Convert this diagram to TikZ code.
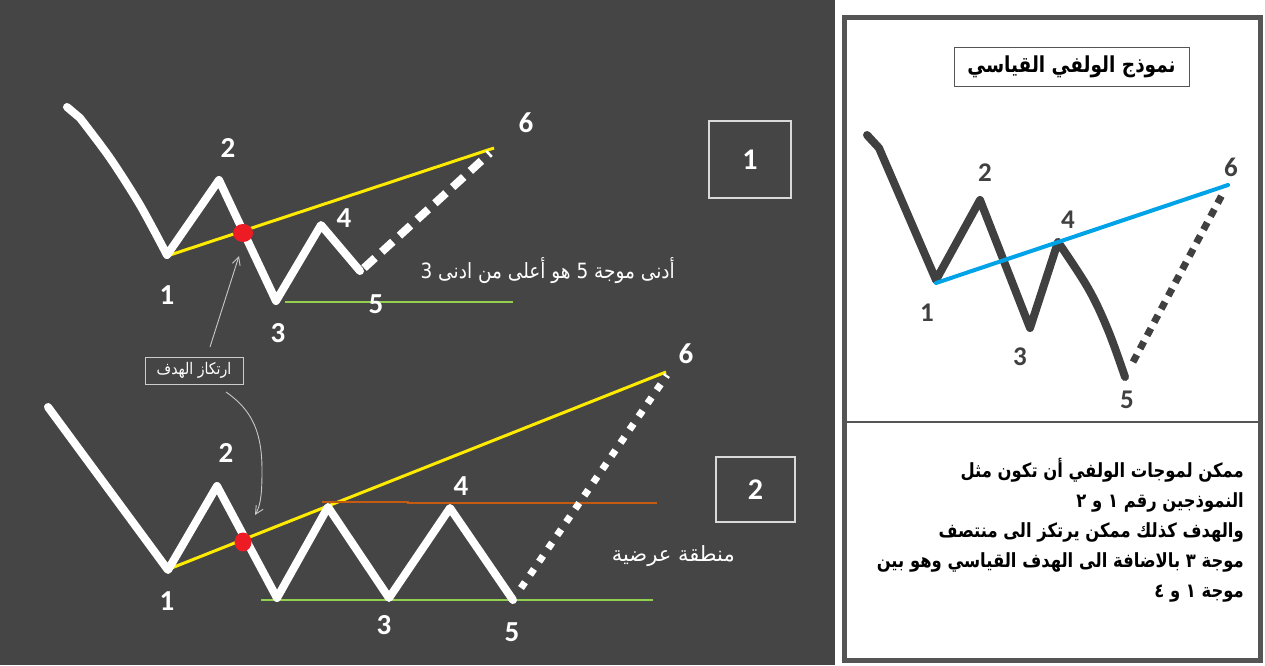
\documentclass[tikz,border=0pt]{standalone}
\usepackage{fontspec}
\TeXXeTstate=1
\newfontfamily\arabicfont[Script=Arabic]{DejaVu Sans}
\newfontfamily\arabicnarrow[Script=Arabic,FakeStretch=0.88]{DejaVu Sans}
\newfontfamily\arabicbody[Script=Arabic,FakeStretch=0.84]{DejaVu Sans}
\newfontfamily\numfont{Carlito}
\usetikzlibrary{arrows.meta}
\definecolor{bgdark}{RGB}{69,69,69}
\definecolor{wavegray}{RGB}{64,64,64}
\definecolor{lineyellow}{RGB}{255,235,0}
\definecolor{linegreen}{RGB}{146,208,80}
\definecolor{lineorange}{RGB}{197,90,17}
\definecolor{dotred}{RGB}{237,28,36}
\definecolor{lineblue}{RGB}{0,162,232}
\definecolor{pointer}{RGB}{200,200,200}
\definecolor{framegray}{RGB}{85,85,85}
\tikzset{
  wave/.style={draw=white,line width=8pt,line cap=round,line join=round},
  wavedark/.style={draw=wavegray,line width=8pt,line cap=round,line join=round},
  dashwave/.style={draw=white,line width=8pt,dash pattern=on 15pt off 9pt},
  dotwave/.style={draw=white,line width=7pt,dash pattern=on 7pt off 9pt},
  dotdark/.style={draw=wavegray,line width=7pt,dash pattern=on 8pt off 7pt},
  wlabel/.style={text=white,font=\numfont\bfseries\fontsize{29}{29}\selectfont,inner sep=0pt},
  dlabel/.style={text=wavegray,font=\numfont\bfseries\fontsize{27}{27}\selectfont,inner sep=0pt},
  artext/.style={text=white,inner sep=0pt},
  numbox/.style={draw=white!85!black,line width=1.2pt,minimum width=82pt,minimum height=77pt,text=white,font=\numfont\bfseries\fontsize{30}{30}\selectfont},
  thinarrow/.style={draw=pointer,line width=0.9pt,-{Straight Barb[length=8pt,width=8pt]}},
}
\begin{document}
\begin{tikzpicture}[x=1pt,y=-1pt]
\useasboundingbox (0,0) rectangle (1265,665);
\fill[white] (0,0) rectangle (1265,665);
% left panel
\fill[bgdark] (0,0) rectangle (835,665);
% right panel frame
\draw[framegray,line width=5pt] (844.5,17.5) rectangle (1260.5,660.5);
\draw[framegray,line width=2pt] (847,422) -- (1258,422);

% ===== chart 1 =====
\coordinate (a0) at (67,107);
\coordinate (a1) at (167,255);
\coordinate (a2) at (219,180);
\coordinate (a3) at (276,301);
\coordinate (a4) at (321,225);
\coordinate (a5) at (360,271);
\coordinate (a5d) at (364,268);
\coordinate (a6) at (490,153);
\draw[lineyellow,line width=3pt] (167,256) coordinate (y1s) -- (494,148) coordinate (y1e);
\draw[linegreen,line width=1.3pt] (285,302) coordinate (g1s) -- (513,302) coordinate (g1e);
\draw[wave] (a0) -- (80,118) plot[smooth,tension=0.5] coordinates {(80,118) (110,158) (140,205) (a1)} -- (a2) -- (a3) -- (a4) -- (a5);
\draw[dashwave] (a5d) -- (a6);
\fill[dotred] (243,233) ellipse (10pt and 9pt);
\node[wlabel] (l1a) at (167,295) {1};
\node[wlabel] (l2a) at (228,148) {2};
\node[wlabel] (l3a) at (278,333) {3};
\node[wlabel] (l4a) at (344,218) {4};
\node[wlabel] (l5a) at (376,304) {5};
\node[wlabel] (l6a) at (526,123) {6};
\node[artext,anchor=east,font=\arabicnarrow\fontsize{21}{24}\selectfont] (t1) at (675,271) {\beginR أدنى موجة 5 هو أعلى من ادنى 3\endR};
\node[numbox] (box1) at (750,159.5) {1};

% ===== anchor label =====
\node[draw=white!80!black,line width=1pt,minimum width=98pt,minimum height=27pt,inner sep=0pt,text=white,font=\arabicnarrow\fontsize{16}{16}\selectfont] (anch) at (194,370.5) {\beginR ارتكاز الهدف\endR};
\coordinate (arrA) at (210,347);
\coordinate (arrAend) at (239,256);
\draw[thinarrow] (arrA) -- (arrAend);

% ===== chart 2 =====
\coordinate (b0) at (48,407);
\coordinate (b1) at (168,570);
\coordinate (b2) at (217,486);
\coordinate (b3) at (277,598);
\coordinate (b4) at (328,507);
\coordinate (b5) at (389,598);
\coordinate (b6) at (450,508);
\coordinate (b7) at (513,600);
\coordinate (b7d) at (521,588);
\coordinate (b8) at (667,375);
\draw[lineyellow,line width=3pt] (169,569) -- (666,372);
\draw[lineorange,line width=1.3pt] (322,502) -- (408,502) -- (408,503) -- (657,503);
\draw[linegreen,line width=1.3pt] (261,600) -- (653,600);
\draw[wave] (b0) -- (b1) -- (b2) -- (b3) -- (b4) -- (b5) -- (b6) -- (b7);
\draw[dotwave] (b7d) -- (b8);
\fill[dotred] (243,542) ellipse (8.5pt and 9.5pt);
\node[wlabel] (l1b) at (167,601) {1};
\node[wlabel] (l2b) at (226,453) {2};
\node[wlabel] (l3b) at (384,625) {3};
\node[wlabel] (l4b) at (461,486) {4};
\node[wlabel] (l5b) at (512,632) {5};
\node[wlabel] (l6b) at (686,354) {6};
\node[artext,anchor=east,font=\arabicfont\fontsize{21}{24}\selectfont] (t2) at (735,556) {\beginR منطقة عرضية\endR};
\node[numbox,minimum width=79pt,minimum height=65pt] (box2) at (755.5,489.5) {2};
\coordinate (arrB) at (226,392);
\coordinate (arrBend) at (255,515);
\draw[thinarrow] (arrB) .. controls (252,410) and (262,432) .. (262,470) .. controls (262,492) and (261,505) .. (arrBend);

% ===== right panel =====
\node[draw=framegray,line width=1pt,minimum width=235pt,minimum height=39pt,inner sep=0pt,text=black,font=\arabicbody\bfseries\fontsize{22}{22}\selectfont] (title) at (1071.5,66.5) {\beginR نموذج الولفي القياسي\endR};
\coordinate (c0) at (867,135);
\coordinate (c1) at (936,280);
\coordinate (c2) at (980,200);
\coordinate (c3) at (1030,328);
\coordinate (c4) at (1058,242);
\coordinate (c5) at (1125,377);
\coordinate (c5d) at (1133,362);
\coordinate (c6) at (1223,193);
\draw[wavedark] (c0) -- (879,148) -- (c1) -- (c2) -- (c3) -- (c4) plot[smooth,tension=0.6] coordinates {(c4) (1088,288) (1108,330) (c5)};
\draw[dotdark] (c5d) -- (c6);
\draw[lineblue,line width=4pt,line cap=round] (936,283) -- (1228,185);
\node[dlabel] (l1c) at (927,313) {1};
\node[dlabel] (l2c) at (985,173) {2};
\node[dlabel] (l3c) at (1020,357) {3};
\node[dlabel] (l4c) at (1068,220) {4};
\node[dlabel] (l5c) at (1127,400) {5};
\node[dlabel] (l6c) at (1231,167) {6};
\node[anchor=north east,align=right,inner sep=0pt,text=black,font=\arabicbody\bfseries\fontsize{19.5}{30}\selectfont] (body) at (1244,458) {\beginR ممكن لموجات الولفي أن تكون مثل\endR\\ \beginR النموذجين رقم ١ و ٢\endR\\ \beginR والهدف كذلك ممكن يرتكز الى منتصف\endR\\ \beginR موجة ٣ بالاضافة الى الهدف القياسي وهو بين\endR\\ \beginR موجة ١ و ٤\endR};
\end{tikzpicture}
\end{document}
